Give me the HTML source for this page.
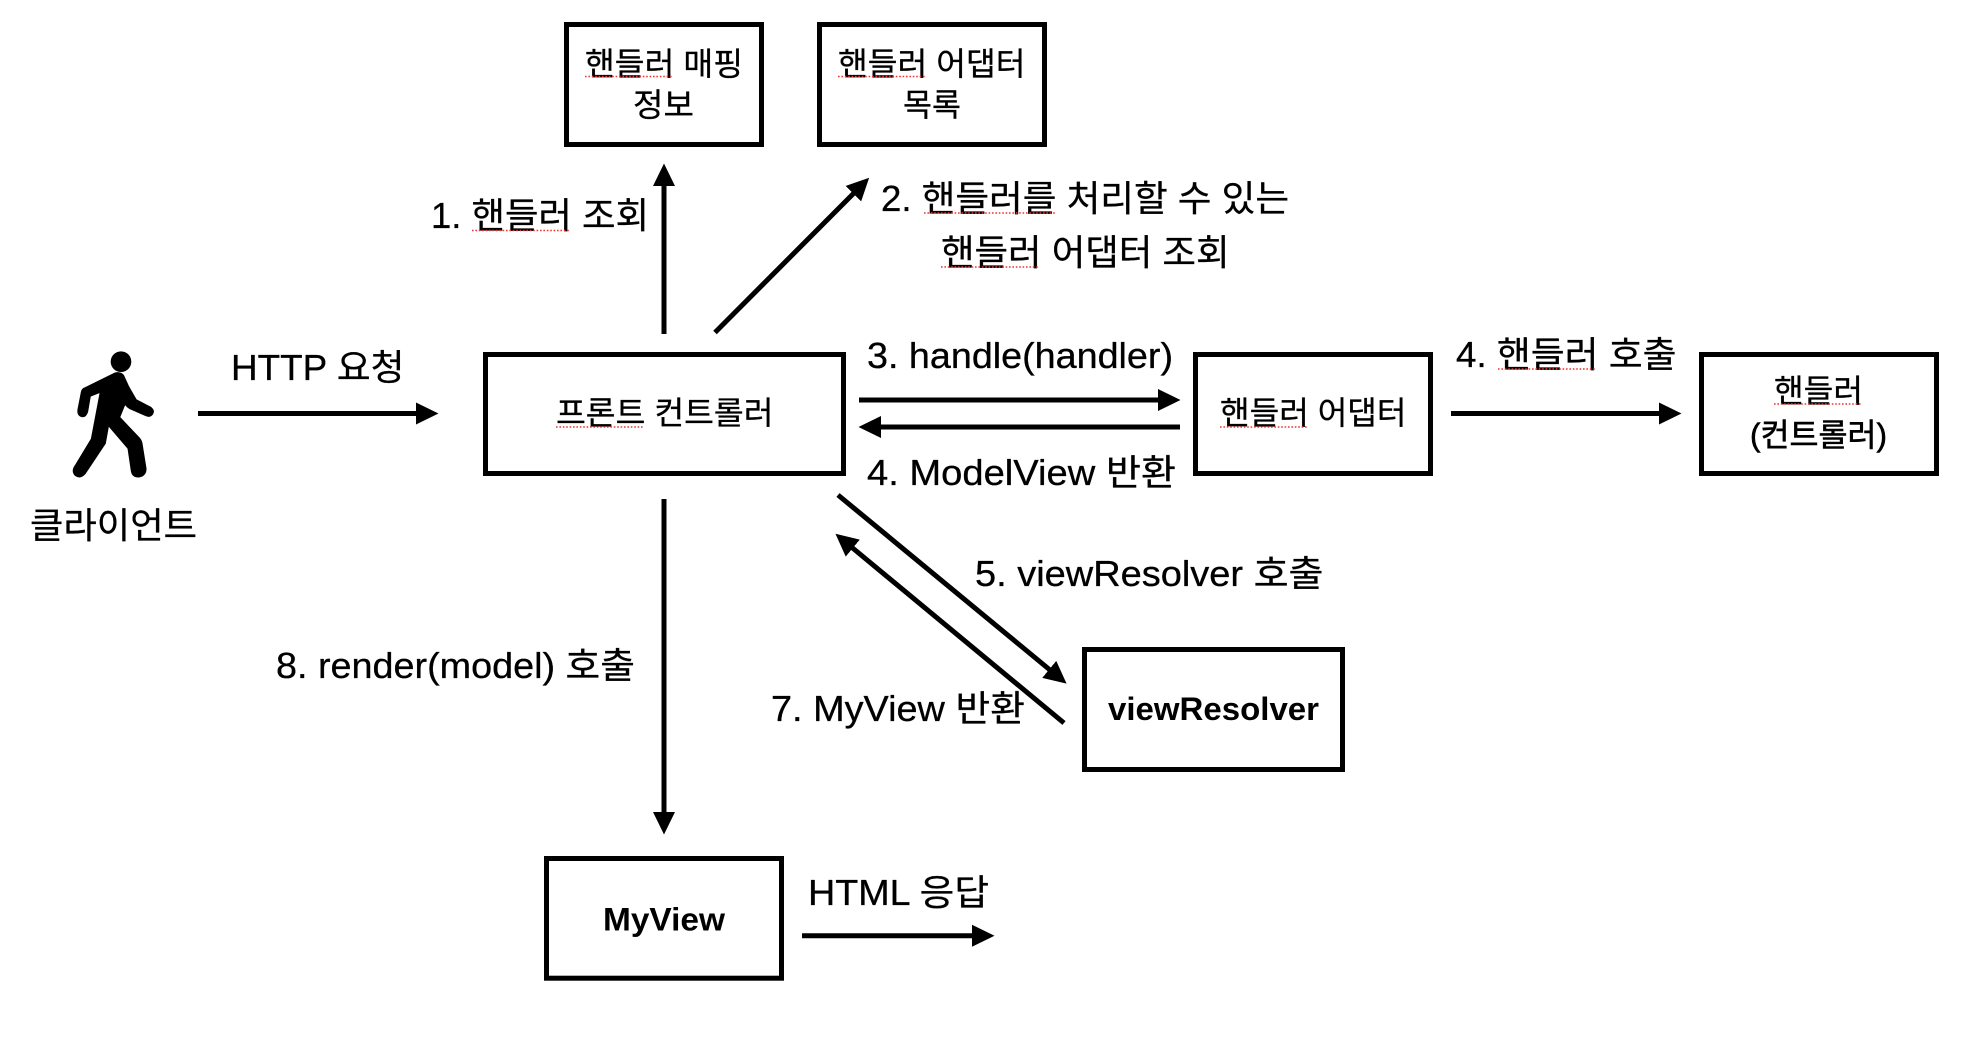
<!DOCTYPE html>
<html lang="ko">
<head>
<meta charset="utf-8">
<title>Spring MVC diagram</title>
<style>
html,body{margin:0;padding:0;background:#fff;width:1982px;height:1038px;overflow:hidden}
svg{display:block}
text{font-family:"Liberation Sans","Noto Sans CJK KR",sans-serif;fill:#000;stroke:#000;stroke-width:.3px}
.a{font-size:36px}
.b{font-size:32px}
.bb{font-size:32px;font-weight:bold;stroke-width:0}
.box{fill:#fff;stroke:#000;stroke-width:5}
.l{stroke:#000;stroke-width:5;fill:none}
.s{stroke:#ee3333;stroke-width:1.6;stroke-dasharray:1.6 1.8;fill:none}
</style>
</head>
<body>
<svg width="1982" height="1038" viewBox="0 0 1982 1038" xmlns="http://www.w3.org/2000/svg">
<defs>
<marker id="h" markerUnits="userSpaceOnUse" markerWidth="26" markerHeight="26" refX="1" refY="13" orient="auto">
<polygon points="0,2 22.5,13 0,24" fill="#000"/>
</marker>
</defs>
<rect width="1982" height="1038" fill="#fff"/>

<!-- boxes -->
<rect class="box" x="566.5" y="24.5" width="195" height="120"/>
<rect class="box" x="819.5" y="24.5" width="225" height="120"/>
<rect class="box" x="485.5" y="354.5" width="358" height="119"/>
<rect class="box" x="1195.5" y="354.5" width="235" height="119"/>
<rect class="box" x="1701.5" y="354.5" width="235" height="119"/>
<rect class="box" x="1084.5" y="649.5" width="258" height="120"/>
<rect class="box" x="546.5" y="858.5" width="235" height="119.7"/>

<!-- connectors -->
<line class="l" x1="198" y1="413.5" x2="417" y2="413.5" marker-end="url(#h)"/>
<line class="l" x1="664" y1="334" x2="664" y2="185" marker-end="url(#h)"/>
<line class="l" x1="715" y1="332.5" x2="854" y2="193" marker-end="url(#h)"/>
<line class="l" x1="859" y1="400" x2="1159" y2="400" marker-end="url(#h)"/>
<line class="l" x1="1180" y1="427" x2="880" y2="427" marker-end="url(#h)"/>
<line class="l" x1="1451" y1="413.5" x2="1660" y2="413.5" marker-end="url(#h)"/>
<line class="l" x1="664" y1="499" x2="664" y2="813" marker-end="url(#h)"/>
<line class="l" x1="838" y1="495" x2="1050" y2="670" marker-end="url(#h)"/>
<line class="l" x1="1064" y1="723" x2="852" y2="547.5" marker-end="url(#h)"/>
<line class="l" x1="802" y1="935.7" x2="973" y2="935.7" marker-end="url(#h)"/>

<!-- person -->
<g transform="translate(60,340) scale(0.33333)">
<circle cx="183" cy="65" r="31" fill="#000"/>
<path fill="#000" stroke="#000" stroke-width="5" stroke-linejoin="round" d="M70,147 L165,100 Q182,96 190,107 L205,140 L228,180 L272,203 Q284,213 276,223 Q269,231 258,226 L210,205 Q199,199 195,190 L178,232 L235,292 Q243,300 245,310 L257,385 Q258,406 237,410 Q218,411 215,393 L205,325 L145,255 L135,310 L75,400 Q61,416 47,406 Q35,394 46,378 L95,297 L122,155 L90,168 L82,215 Q77,231 66,229 Q52,226 55,208 L65,157 Q66,150 70,147 Z"/>
</g>

<!-- box labels -->
<text class="b" x="585" y="75" textLength="158" lengthAdjust="spacingAndGlyphs">핸들러 매핑</text>
<text class="b" x="633" y="116" textLength="61" lengthAdjust="spacingAndGlyphs">정보</text>
<text class="b" x="838" y="75" textLength="187.5" lengthAdjust="spacingAndGlyphs">핸들러 어댑터</text>
<text class="b" x="903" y="116" textLength="58" lengthAdjust="spacingAndGlyphs">목록</text>
<text class="b" x="556" y="424" textLength="217.5" lengthAdjust="spacingAndGlyphs">프론트 컨트롤러</text>
<text class="b" x="1220" y="424" textLength="186.5" lengthAdjust="spacingAndGlyphs">핸들러 어댑터</text>
<text class="b" x="1774" y="402" textLength="89" lengthAdjust="spacingAndGlyphs">핸들러</text>
<text class="b" x="1750" y="446" textLength="137" lengthAdjust="spacingAndGlyphs" style="stroke-width:.6px">(컨트롤러)</text>
<text class="bb" x="1108" y="720" textLength="211" lengthAdjust="spacingAndGlyphs">viewResolver</text>
<text class="bb" x="603" y="930.7" textLength="122" lengthAdjust="spacingAndGlyphs">MyView</text>

<!-- connector labels -->
<text class="a" x="231" y="380" textLength="173.5" lengthAdjust="spacingAndGlyphs">HTTP 요청</text>
<text class="a" x="30" y="538" textLength="167" lengthAdjust="spacingAndGlyphs">클라이언트</text>
<text class="a" x="431" y="228" textLength="218" lengthAdjust="spacingAndGlyphs">1. 핸들러 조회</text>
<text class="a" x="881" y="211" textLength="408" lengthAdjust="spacingAndGlyphs">2. 핸들러를 처리할 수 있는</text>
<text class="a" x="941" y="265" textLength="288.5" lengthAdjust="spacingAndGlyphs">핸들러 어댑터 조회</text>
<text class="a" x="867" y="368" textLength="306" lengthAdjust="spacingAndGlyphs">3. handle(handler)</text>
<text class="a" x="867" y="485" textLength="309" lengthAdjust="spacingAndGlyphs">4. ModelView 반환</text>
<text class="a" x="1456" y="367" textLength="220.5" lengthAdjust="spacingAndGlyphs">4. 핸들러 호출</text>
<text class="a" x="975" y="586" textLength="348.5" lengthAdjust="spacingAndGlyphs">5. viewResolver 호출</text>
<text class="a" x="771" y="721" textLength="254" lengthAdjust="spacingAndGlyphs">7. MyView 반환</text>
<text class="a" x="276" y="678" textLength="359" lengthAdjust="spacingAndGlyphs">8. render(model) 호출</text>
<text class="a" x="808" y="905" textLength="181" lengthAdjust="spacingAndGlyphs">HTML 응답</text>

<!-- spellcheck squiggles -->
<line class="s" x1="585" y1="76.5" x2="673" y2="76.5"/>
<line class="s" x1="838" y1="76.5" x2="926" y2="76.5"/>
<line class="s" x1="472" y1="230.5" x2="569" y2="230.5"/>
<line class="s" x1="924" y1="213" x2="1056" y2="213"/>
<line class="s" x1="941" y1="267" x2="1038" y2="267"/>
<line class="s" x1="556" y1="427" x2="644" y2="427"/>
<line class="s" x1="1220" y1="427" x2="1307" y2="427"/>
<line class="s" x1="1498" y1="369" x2="1595" y2="369"/>
<line class="s" x1="1774" y1="404" x2="1862" y2="404"/>
</svg>
</body>
</html>
